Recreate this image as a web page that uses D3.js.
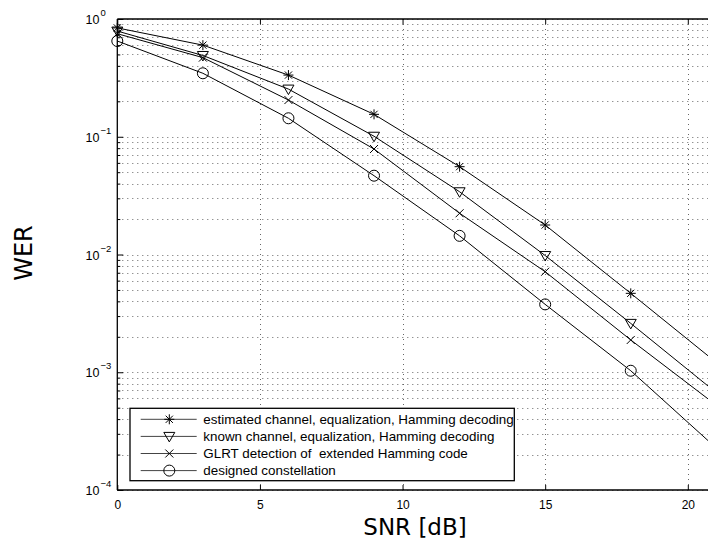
<!DOCTYPE html>
<html>
<head>
<meta charset="utf-8">
<script src="https://cdn.jsdelivr.net/npm/d3@7"></script>
<style>
  html, body { margin: 0; padding: 0; background: #fff; }
  svg { display: block; }
  text { white-space: pre; }
</style>
</head>
<body>
<svg id="chart" width="708" height="540"></svg>
<script>
const snr = [0, 3, 6, 9, 12, 15, 18, 21];
const werEstimated = [0.84, 0.60, 0.334, 0.155, 0.0557, 0.0178, 0.00468, 0.00121];
const werKnown = [0.79, 0.49, 0.254, 0.101, 0.0341, 0.0098, 0.0026, 0.00067];
const werGlrt = [0.75, 0.47, 0.205, 0.0787, 0.0224, 0.00714, 0.00188, 0.000525];
const werDesigned = [0.65, 0.346, 0.1435, 0.0467, 0.0144, 0.00377, 0.00103, 0.000227];
const seriesNames = [
  "estimated channel, equalization, Hamming decoding",
  "known channel, equalization, Hamming decoding",
  "GLRT detection of  extended Hamming code",
  "designed constellation"
];
const seriesMarkers = ["star", "triangle", "cross", "circle"];
const xTicks = [0, 5, 10, 15, 20];
const yExponents = [0, -1, -2, -3, -4];
const xLabel = "SNR [dB]";
const yLabel = "WER";

const series = [werEstimated, werKnown, werGlrt, werDesigned].map((vals, i) => ({
  name: seriesNames[i], marker: seriesMarkers[i],
  pts: snr.map((s, j) => ({x: s, y: vals[j]}))
}));

const svg = d3.select("#chart");
const pLeft = 117.3, pTop = 19, pBottom = 490;
const x = d3.scaleLinear().domain([0, 20]).range([pLeft, 687.8]);
const pRight = x(22);
const y = d3.scaleLog().domain([1e-4, 1]).range([pBottom, pTop]);

svg.append("defs").append("clipPath").attr("id", "clip")
  .append("rect").attr("x", pLeft).attr("y", pTop).attr("width", pRight - pLeft).attr("height", pBottom - pTop);

// grid
const minorVals = [];
for (let e = -4; e < 0; e++) for (let m = 1; m < 10; m++) minorVals.push(m * Math.pow(10, e));
minorVals.push(1);
const grid = svg.append("g");
grid.selectAll("line.h").data(minorVals).join("line")
  .attr("x1", pLeft).attr("x2", pRight)
  .attr("y1", d => Math.round(y(d)) + 0.5).attr("y2", d => Math.round(y(d)) + 0.5)
  .attr("stroke", "#666").attr("stroke-width", 1)
  .attr("stroke-dasharray", "1,4");
grid.selectAll("line.v").data(xTicks.slice(1)).join("line")
  .attr("x1", d => Math.round(x(d)) + 0.5).attr("x2", d => Math.round(x(d)) + 0.5)
  .attr("y1", pTop).attr("y2", pBottom)
  .attr("stroke", "#666").attr("stroke-width", 1)
  .attr("stroke-dasharray", "1,4");

// axes frame
const frame = svg.append("g").attr("stroke", "#000").attr("stroke-width", 1.3);
frame.append("line").attr("x1", pLeft).attr("x2", pLeft).attr("y1", pTop).attr("y2", pBottom);
frame.append("line").attr("x1", pLeft).attr("x2", pRight).attr("y1", pTop).attr("y2", pTop);
frame.append("line").attr("x1", pLeft).attr("x2", pRight).attr("y1", pBottom).attr("y2", pBottom);

// x axis ticks (inside) bottom and top
const xAxisB = d3.axisBottom(x).tickValues(xTicks).tickSizeInner(-5).tickSizeOuter(0).tickPadding(10).tickFormat(d3.format("d"));
const gxb = svg.append("g").attr("transform", `translate(0,${pBottom})`).call(xAxisB);
gxb.select(".domain").remove();
gxb.selectAll("text").attr("font-family", "Liberation Sans, Arial, sans-serif").attr("font-size", 12).attr("fill", "#000");
const xAxisT = d3.axisTop(x).tickValues(xTicks).tickSizeInner(-5).tickSizeOuter(0).tickFormat("");
const gxt = svg.append("g").attr("transform", `translate(0,${pTop})`).call(xAxisT);
gxt.select(".domain").remove();

// y axis ticks
const majorVals = yExponents.map(e => Math.pow(10, e));
const yAxis = d3.axisLeft(y).tickValues(majorVals).tickSizeInner(-6).tickSizeOuter(0).tickFormat("");
const gy = svg.append("g").attr("transform", `translate(${pLeft},0)`).call(yAxis);
gy.select(".domain").remove();
const yMinor = d3.axisLeft(y).tickValues(minorVals.filter(v => !majorVals.some(m => Math.abs(m - v) / m < 1e-9))).tickSizeInner(-3).tickSizeOuter(0).tickFormat("");
const gym = svg.append("g").attr("transform", `translate(${pLeft},0)`).call(yMinor);
gym.select(".domain").remove();

// y tick labels with superscripts
const ylab = svg.append("g").attr("font-family", "Liberation Sans, Arial, sans-serif").attr("fill", "#000");
yExponents.forEach(e => {
  const yy = y(Math.pow(10, e));
  ylab.append("text").attr("x", 99.5).attr("y", yy + 5).attr("text-anchor", "end").attr("font-size", 12.5).text("10");
  ylab.append("text").attr("x", 100.5).attr("y", yy - 3).attr("font-size", 9.5).text(e === 0 ? "0" : "\u2212" + (-e));
});

// axis titles
svg.append("text").attr("x", 415).attr("y", 535).attr("text-anchor", "middle")
  .attr("font-family", "DejaVu Sans, sans-serif").attr("font-size", 23).attr("fill", "#000").text(xLabel);
svg.append("text").attr("transform", "translate(32,253) rotate(-90)").attr("text-anchor", "middle")
  .attr("font-family", "DejaVu Sans, sans-serif").attr("font-size", 24).attr("fill", "#000").text(yLabel);

// marker drawing
function drawMarker(g, type, cx, cy) {
  const s = g.append("g").attr("transform", `translate(${cx},${cy})`).attr("fill", "none").attr("stroke", "#000").attr("stroke-width", 1);
  if (type === "star") {
    const r = 5;
    s.append("path").attr("d", `M${-r},0H${r}M0,${-r}V${r}M${-r*0.72},${-r*0.72}L${r*0.72},${r*0.72}M${-r*0.72},${r*0.72}L${r*0.72},${-r*0.72}`);
  } else if (type === "triangle") {
    s.append("path").attr("d", "M-5.5,-4L5.5,-4L0,5.5Z");
  } else if (type === "cross") {
    s.append("path").attr("d", "M-4,-4L4,4M-4,4L4,-4");
  } else {
    s.append("circle").attr("r", 5.5);
  }
}

const line = d3.line().x(d => x(d.x)).y(d => y(d.y));
const plotG = svg.append("g").attr("clip-path", "url(#clip)");
series.forEach(s => {
  plotG.append("path").datum(s.pts).attr("d", line).attr("fill", "none").attr("stroke", "#000").attr("stroke-width", 1);
});
const markG = svg.append("g");
series.forEach(s => {
  s.pts.forEach(p => drawMarker(markG, s.marker, x(p.x), y(p.y)));
});

// legend
const lg = svg.append("g");
lg.append("rect").attr("x", 130).attr("y", 408.3).attr("width", 384.3).attr("height", 72.4)
  .attr("fill", "#fff").attr("stroke", "#000").attr("stroke-width", 1.3);
series.forEach((s, i) => {
  const ly = 419.3 + i * 17.1;
  lg.append("line").attr("x1", 140.7).attr("x2", 196.7).attr("y1", ly).attr("y2", ly).attr("stroke", "#444").attr("stroke-width", 1);
  drawMarker(lg, s.marker, 169.3, ly);
  lg.append("text").attr("x", 203.3).attr("y", ly + 4.6)
    .attr("font-family", "Liberation Sans, Arial, sans-serif").attr("font-size", 13.4).attr("fill", "#000")
    .attr("xml:space", "preserve").text(s.name);
});
</script>
</body>
</html>
